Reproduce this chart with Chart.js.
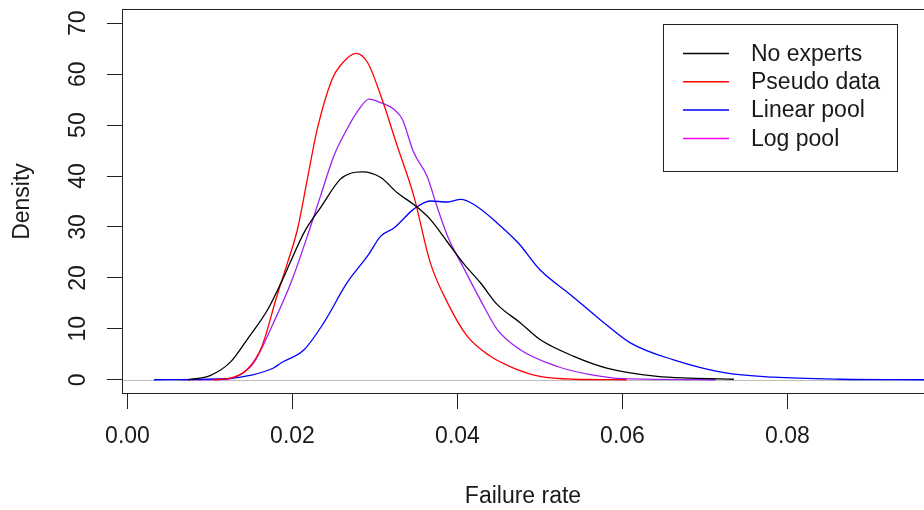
<!DOCTYPE html>
<html>
<head>
    <title>Failure rate densities</title>
    <script src="https://cdn.jsdelivr.net/npm/chart.js"></script>
    <style>
        body {
            margin: 0;
            padding: 0;
            background-color: #ffffff;
        }
        #chart {
            display: block;
        }
    </style>
</head>
<body>
    <canvas id="chart" width="924" height="510"></canvas>

<script>
        // Axis ticks
        const xTicks = [0, 0.02, 0.04, 0.06, 0.08];
        const yTicks = [0, 10, 20, 30, 40, 50, 60, 70];

        // Density estimates, one x/y pair of arrays per prior setting
        const noExpertsX = [0.0074, 0.0100, 0.0125, 0.0145, 0.0170, 0.0186, 0.0198, 0.0214, 0.0234, 0.0258, 0.0270, 0.0285, 0.0307, 0.0327, 0.0347, 0.0367, 0.0388, 0.0408, 0.0428, 0.0448, 0.0476, 0.0500, 0.0541, 0.0581, 0.0642, 0.0682, 0.0735];
        const noExpertsY = [0, 0.8, 3.5, 7.9, 13.8, 19.0, 23.3, 28.9, 33.8, 39.4, 40.5, 40.8, 39.7, 36.7, 34.4, 31.5, 27.0, 22.7, 19.0, 14.8, 11.2, 7.9, 4.6, 2.3, 0.65, 0.3, 0.1];

        const pseudoX = [0.0105, 0.0125, 0.0145, 0.0163, 0.0181, 0.0194, 0.0206, 0.0218, 0.0230, 0.0248, 0.0258, 0.0277, 0.0291, 0.0307, 0.0327, 0.0347, 0.0367, 0.0388, 0.0412, 0.0440, 0.0468, 0.0500, 0.0540, 0.0605];
        const pseudoY = [0, 0.3, 2.0, 6.6, 16.4, 23.0, 29.5, 39.4, 49.2, 59.0, 61.7, 64.1, 62.3, 55.8, 45.9, 36.1, 23.0, 15.1, 8.5, 4.6, 2.3, 0.65, 0.1, 0];

        const linearX = [0.0032, 0.0120, 0.0150, 0.0177, 0.0186, 0.0214, 0.0238, 0.0266, 0.0291, 0.0307, 0.0323, 0.0347, 0.0367, 0.0388, 0.0404, 0.0420, 0.0448, 0.0474, 0.0500, 0.0537, 0.0573, 0.0610, 0.0662, 0.0723, 0.0783, 0.0864, 0.0966];
        const linearY = [0, 0.2, 0.9, 2.3, 3.3, 5.9, 11.2, 19.0, 24.3, 28.2, 29.8, 33.5, 35.1, 34.9, 35.4, 34.4, 30.8, 26.8, 21.6, 16.7, 11.8, 7.2, 3.9, 1.4, 0.5, 0.1, 0];

        const logX = [0.0064, 0.0120, 0.0133, 0.0153, 0.0177, 0.0198, 0.0218, 0.0234, 0.0250, 0.0266, 0.0278, 0.0293, 0.0307, 0.0323, 0.0333, 0.0347, 0.0363, 0.0375, 0.0388, 0.0408, 0.0430, 0.0448, 0.0476, 0.0521, 0.0561, 0.0601, 0.0713];
        const logY = [0, 0.1, 0.65, 3.3, 11.2, 19.0, 28.2, 36.1, 43.9, 49.2, 52.5, 55.1, 54.4, 53.1, 51.2, 44.6, 40.0, 34.1, 28.2, 21.8, 15.0, 9.9, 5.9, 2.6, 1.0, 0.2, 0];

        const FONT = "'Liberation Sans', Arial, sans-serif";
        const TEXT = '#1a1a1a';

        function points(xs, ys) {
            return xs.map((x, i) => ({ x: x, y: ys[i] }));
        }

        function series(label, xs, ys, color, legendColor) {
            return {
                label: label,
                data: points(xs, ys),
                borderColor: color,
                legendColor: legendColor || color,
                borderWidth: 1.3,
                pointRadius: 0,
                showLine: true,
                fill: false,
                cubicInterpolationMode: 'monotone'
            };
        }

        // Box around the plot region plus the grey zero line
        const frame = {
            id: 'frame',
            beforeDatasetsDraw(chart) {
                const ctx = chart.ctx;
                const a = chart.chartArea;
                const y0 = Math.round(chart.scales.y.getPixelForValue(0)) + 0.5;
                ctx.save();
                ctx.strokeStyle = '#bebebe';
                ctx.lineWidth = 1;
                ctx.beginPath();
                ctx.moveTo(a.left, y0);
                ctx.lineTo(a.right, y0);
                ctx.stroke();
                ctx.restore();
            },
            afterDatasetsDraw(chart) {
                const ctx = chart.ctx;
                const a = chart.chartArea;
                ctx.save();
                ctx.strokeStyle = '#222';
                ctx.lineWidth = 1;
                ctx.strokeRect(a.left + 0.5, a.top + 0.5, a.right - a.left + 5, a.bottom - a.top - 1);
                ctx.restore();
            }
        };

        // R-style boxed legend in the top right corner
        const boxLegend = {
            id: 'boxLegend',
            afterDraw(chart) {
                const ctx = chart.ctx;
                const sets = chart.data.datasets;
                const left = 663, top = 24, w = 234, h = 147;
                const rowTop = 53.5, rowGap = 28.3;
                ctx.save();
                ctx.fillStyle = '#ffffff';
                ctx.fillRect(left, top, w, h);
                ctx.strokeStyle = '#222';
                ctx.lineWidth = 1;
                ctx.strokeRect(left + 0.5, top + 0.5, w, h);
                ctx.font = '23px ' + FONT;
                ctx.textBaseline = 'middle';
                ctx.textAlign = 'left';
                sets.forEach((ds, i) => {
                    const y = rowTop + i * rowGap;
                    ctx.strokeStyle = ds.legendColor;
                    ctx.lineWidth = 1.5;
                    ctx.beginPath();
                    ctx.moveTo(683, y);
                    ctx.lineTo(729, y);
                    ctx.stroke();
                    ctx.fillStyle = TEXT;
                    ctx.fillText(ds.label, 751, y + 1);
                });
                ctx.restore();
            }
        };

        const ctx = document.getElementById('chart').getContext('2d');
        new Chart(ctx, {
            type: 'scatter',
            data: {
                datasets: [
                    series('No experts', noExpertsX, noExpertsY, '#000000'),
                    series('Pseudo data', pseudoX, pseudoY, '#ff0000'),
                    series('Linear pool', linearX, linearY, '#0000ff'),
                    series('Log pool', logX, logY, '#a020f0', '#ff00ff')
                ]
            },
            options: {
                responsive: false,
                animation: false,
                devicePixelRatio: 1,
                layout: { padding: { top: 9, left: 0, right: 0, bottom: 0 } },
                plugins: {
                    legend: { display: false },
                    tooltip: { enabled: false }
                },
                scales: {
                    x: {
                        type: 'linear',
                        min: -0.000667,
                        max: 0.09655,
                        afterBuildTicks: s => { s.ticks = xTicks.map(v => ({ value: v })); },
                        afterFit: s => {
                            s.height = 116;
                            s.paddingLeft = 0;
                            s.paddingRight = 0;
                        },
                        grid: {
                            drawOnChartArea: false,
                            drawTicks: true,
                            tickLength: 15,
                            tickColor: '#222'
                        },
                        border: { display: false },
                        ticks: {
                            padding: 14,
                            color: TEXT,
                            font: { family: FONT, size: 23 },
                            maxRotation: 0,
                            callback: v => v.toFixed(2)
                        },
                        title: {
                            display: true,
                            text: 'Failure rate',
                            color: TEXT,
                            font: { family: FONT, size: 23 },
                            padding: { top: 0, bottom: 0 }
                        }
                    },
                    y: {
                        type: 'linear',
                        min: -2.8,
                        max: 72.8,
                        afterBuildTicks: s => { s.ticks = yTicks.map(v => ({ value: v })); },
                        afterFit: s => {
                            s.width = 122;
                            s.paddingTop = 0;
                            s.paddingBottom = 0;
                        },
                        grid: {
                            drawOnChartArea: false,
                            drawTicks: true,
                            tickLength: 15,
                            tickColor: '#222'
                        },
                        border: { display: false },
                        ticks: {
                            padding: 16,
                            color: TEXT,
                            font: { family: FONT, size: 23 },
                            minRotation: 90,
                            maxRotation: 90,
                            crossAlign: 'center',
                            callback: v => String(v)
                        },
                        title: {
                            display: true,
                            text: 'Density',
                            color: TEXT,
                            font: { family: FONT, size: 23 },
                            padding: { top: 9, bottom: 0 }
                        }
                    }
                }
            },
            plugins: [frame, boxLegend]
        });
    </script>
</body>
</html>
